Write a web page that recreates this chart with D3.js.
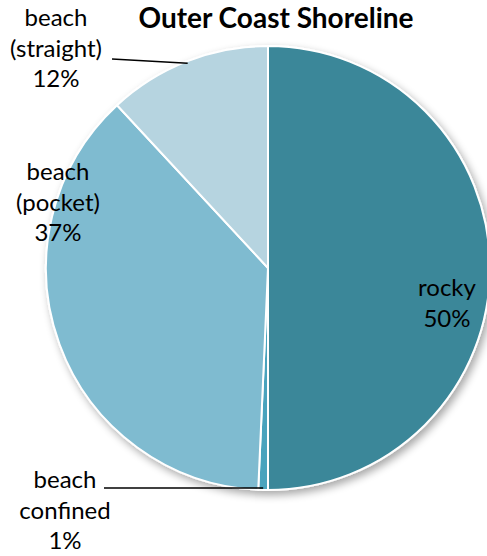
<!DOCTYPE html>
<html>
<head>
<meta charset="utf-8">
<script src="https://cdn.jsdelivr.net/npm/d3@7"></script>
<style>
  body { margin: 0; background: #fff; }
  text { font-family: Lato, "Open Sans", sans-serif; fill: #000; }
</style>
</head>
<body>
<div id="pie"></div>
<script>
// slice data, clockwise from 12 o'clock
const categories = ["rocky", "beach confined", "beach (pocket)", "beach (straight)"];
const shares = [50.0, 0.7, 37.4, 11.9];
const pctLabels = ["50%", "1%", "37%", "12%"];
const labelLines = [["rocky", "50%"], ["beach", "confined", "1%"], ["beach", "(pocket)", "37%"], ["beach", "(straight)", "12%"]];
const colors = ["#3a8799", "#4aa3bd", "#7fbbd0", "#b6d4e0"];

let width = 487, height = 556;
let cx = 268, cy = 268, radius = 222;

let svg = d3.select("#pie")
            .append("svg")
            .attr("width", width)
            .attr("height", height);

// soft shadow under the pie
let defs = svg.append("defs");
let filter = defs.append("filter")
                 .attr("id", "shadow")
                 .attr("x", "-10%").attr("y", "-10%")
                 .attr("width", "130%").attr("height", "130%");
filter.append("feGaussianBlur").attr("in", "SourceAlpha").attr("stdDeviation", 4);
filter.append("feOffset").attr("dx", 3).attr("dy", 4).attr("result", "blur");
filter.append("feComponentTransfer").append("feFuncA").attr("type", "linear").attr("slope", 0.35);
let merge = filter.append("feMerge");
merge.append("feMergeNode");
merge.append("feMergeNode").attr("in", "SourceGraphic");

// title
svg.append("text")
   .attr("x", 276)
   .attr("y", 28)
   .attr("text-anchor", "middle")
   .style("font-weight", "bold")
   .style("font-size", "28px")
   .text("Outer Coast Shoreline");

const data = categories.map((c, i) => ({name: c, value: shares[i], color: colors[i], lines: labelLines[i]}));

let pie = d3.pie()
            .sort(null)
            .value(d => d.value);

let arc = d3.arc()
            .innerRadius(0)
            .outerRadius(radius);

let g = svg.append("g")
           .attr("transform", `translate(${cx},${cy})`);

g.append("g")
 .attr("filter", "url(#shadow)")
 .selectAll("path")
 .data(pie(data))
 .enter()
 .append("path")
 .attr("d", arc)
 .attr("fill", d => d.data.color)
 .attr("stroke", "#fff")
 .attr("stroke-width", 2)
 .attr("stroke-linejoin", "round");

// label positions (label block centre x, first line baseline y)
const labelPos = [[447, 296], [65, 488], [58, 180], [56, 26]];
const lineGap = 30.5;

data.forEach((d, i) => {
  let t = svg.append("text")
             .attr("text-anchor", "middle")
             .style("font-size", "24px");
  d.lines.forEach((ln, j) => {
    t.append("tspan")
     .attr("x", labelPos[i][0])
     .attr("y", labelPos[i][1] + j * lineGap)
     .text(ln);
  });
});

// leader lines for the outside labels, ending on the rim at slice middle
let arcs = pie(data);
const leaders = [
  {i: 1, from: [104, 488]},
  {i: 3, from: [112, 59]}
];
leaders.forEach(l => {
  let a = arcs[l.i];
  let mid = (a.startAngle + a.endAngle) / 2;
  let tx = cx + Math.sin(mid) * (radius - 2);
  let ty = cy - Math.cos(mid) * (radius - 2);
  svg.append("line")
     .attr("x1", l.from[0])
     .attr("y1", l.from[1])
     .attr("x2", tx)
     .attr("y2", ty)
     .attr("stroke", "#000")
     .attr("stroke-width", 1.5);
});
</script>
</body>
</html>
